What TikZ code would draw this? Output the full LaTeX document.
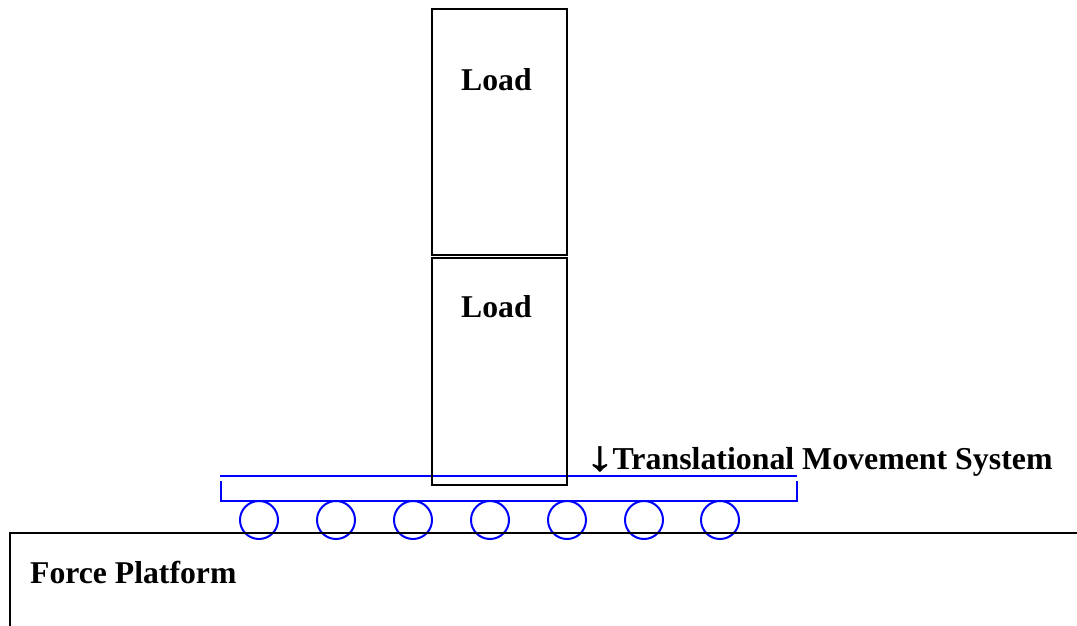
\documentclass[tikz,border=0pt]{standalone}
\usepackage{fontspec}
\setmainfont{Liberation Serif}
\newfontfamily\arrowfont[FakeBold=1.5,FakeStretch=1.4]{Liberation Serif}
\tikzset{
  blk/.style={draw=black,line width=2pt},
  blu/.style={draw=blue,line width=2pt},
  wheel/.style={circle,draw=blue,line width=2pt,minimum size=38pt,inner sep=0pt},
  lbl/.style={anchor=base west,inner sep=0pt,font=\fontsize{31.7pt}{34pt}\selectfont\bfseries}
}
\begin{document}
\begin{tikzpicture}[x=1pt,y=-1pt]
\useasboundingbox (0,0) rectangle (1077,626);
\foreach \n/\x in {1/259,2/336,3/413,4/490,5/567,6/644,7/720}
  \node[wheel] (w\n) at (\x,520) {};
\draw[blu] (220,476) -- (797,476);
\draw[blu] (221,481) -- (221,501) -- (797,501) -- (797,481);
\draw[blk] (432,255) -- (432,9.5) -- (567,9.5) -- (567,255) -- cycle;
\draw[blk] (432,8) -- (432,12);
\draw[blk] (432,258) rectangle (567,485);
\draw[blk] (1077,533) -- (9.5,533) -- (9.5,626);
\node[lbl] (load1) at (461,90.5) {Load};
\node[lbl] (load2) at (461,317.5) {Load};
\node[lbl] (tms) at (585,469) {\raisebox{-1pt}{\fontsize{42pt}{42pt}\arrowfont\mdseries ↓}\kern-2pt\fontsize{31.85pt}{34pt}\selectfont Translational Movement System};
\node[lbl] (fp) at (30,583) {Force Platform};
\end{tikzpicture}
\end{document}
